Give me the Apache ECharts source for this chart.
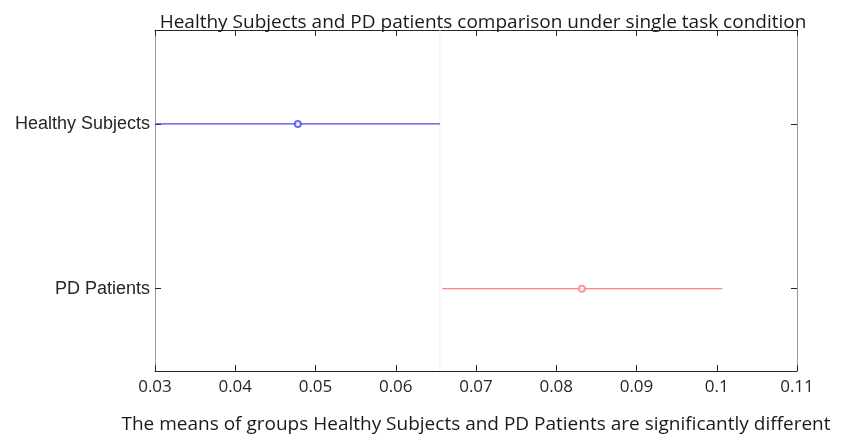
<!DOCTYPE html>
<html>
<head>
<meta charset="utf-8">
<script src="https://cdn.jsdelivr.net/npm/echarts@6/dist/echarts.min.js"></script>
<style>
  html, body { margin: 0; padding: 0; background: #fff; }
  #chart { width: 842px; height: 440px; }
</style>
</head>
<body>
<div id="chart"></div>
<script>
// groups from multcompare, top to bottom
const groups = ['Healthy Subjects', 'PD Patients'];
const groupPos = [1, 2];
const means = [0.0478, 0.0832];
const lower = [0.0301, 0.0658];
const upper = [0.0655, 0.1007];
const groupColors = ['#4646f2', '#ff8080'];
const refLine = 0.0655; // edge of the selected group's interval
const yRange = [0.43, 2.5];

const xTicks = { min: 0.03, max: 0.11, step: 0.01 };

const chart = echarts.init(document.getElementById('chart'));

const font = '"Open Sans", "DejaVu Sans", sans-serif';
const labelFont = '"Liberation Sans", Arial, sans-serif';

const series = [];

// dotted reference line through the plot
series.push({
  name: 'ref',
  type: 'line',
  data: [[refLine, yRange[0]], [refLine, yRange[1]]],
  symbol: 'none',
  lineStyle: { type: [1, 3], color: '#c8c8c8', width: 1 },
  silent: true,
  z: 1
});

groups.forEach((g, i) => {
  series.push({
    name: g,
    type: 'line',
    data: [[lower[i], groupPos[i]], [upper[i], groupPos[i]]],
    symbol: 'none',
    itemStyle: { color: groupColors[i] },
    lineStyle: { width: 1.2, color: groupColors[i] },
    silent: true,
    z: 2
  });
  series.push({
    name: g + ' mean',
    type: 'scatter',
    data: [[means[i], groupPos[i]]],
    symbol: 'emptyCircle',
    symbolSize: 6,
    itemStyle: { color: groupColors[i], borderColor: groupColors[i], borderWidth: 1 },
    z: 3
  });
});

chart.setOption({
  animation: false,
  title: {
    text: 'Healthy Subjects and PD patients comparison under single task condition',
    left: 478,
    textAlign: 'center',
    top: 8,
    textStyle: { fontFamily: font, fontSize: 19, fontWeight: 'normal', color: '#1a1a1a' }
  },
  grid: { left: 155, right: 45, top: 30, bottom: 69 },
  xAxis: [
    {
      type: 'value',
      min: xTicks.min,
      max: xTicks.max,
      interval: xTicks.step,
      position: 'bottom',
      name: 'The means of groups Healthy Subjects and PD Patients are significantly different',
      nameLocation: 'middle',
      nameGap: 44,
      nameTextStyle: { fontFamily: font, fontSize: 19, color: '#1a1a1a' },
      axisLine: { lineStyle: { color: '#262626', width: 1 } },
      axisTick: { inside: true, length: 6, lineStyle: { color: '#262626' } },
      axisLabel: {
        fontFamily: font, fontSize: 17, color: '#262626', margin: 8,
        formatter: v => String(+v.toFixed(2))
      },
      splitLine: { show: false }
    },
    {
      type: 'value',
      min: xTicks.min,
      max: xTicks.max,
      interval: xTicks.step,
      position: 'top',
      axisLine: { lineStyle: { color: '#262626', width: 1 } },
      axisTick: { inside: true, length: 6, lineStyle: { color: '#262626' } },
      axisLabel: { show: false },
      splitLine: { show: false }
    }
  ],
  yAxis: [
    {
      type: 'value',
      min: yRange[0],
      max: yRange[1],
      inverse: true,
      position: 'left',
      axisLine: { show: true, lineStyle: { color: '#9a9a9a', width: 1 } },
      axisTick: { show: true, inside: true, length: 6, customValues: groupPos, lineStyle: { color: '#262626' } },
      axisLabel: {
        fontFamily: labelFont, fontSize: 18, color: '#262626', margin: 5,
        customValues: groupPos,
        formatter: v => groups[groupPos.indexOf(Math.round(v))] || ''
      },
      splitLine: { show: false }
    },
    {
      type: 'value',
      min: yRange[0],
      max: yRange[1],
      inverse: true,
      position: 'right',
      axisLine: { show: true, lineStyle: { color: '#9a9a9a', width: 1 } },
      axisTick: { show: true, inside: true, length: 6, customValues: groupPos, lineStyle: { color: '#262626' } },
      axisLabel: { show: false },
      splitLine: { show: false }
    }
  ],
  series
});
</script>
</body>
</html>
